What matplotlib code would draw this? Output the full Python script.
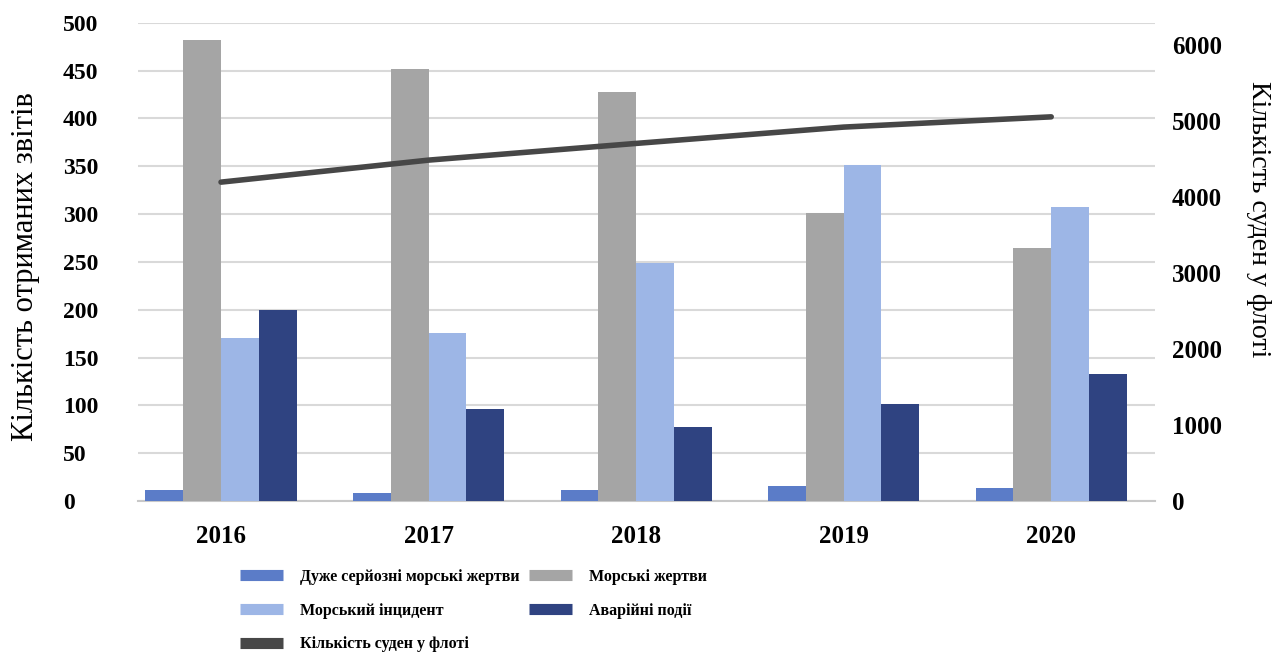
import matplotlib
matplotlib.use("Agg")
import matplotlib.pyplot as plt
from matplotlib.lines import Line2D
import numpy as np

years = ["2016", "2017", "2018", "2019", "2020"]
very_serious = [12, 8, 11, 16, 14]
marine_casualties = [482, 452, 428, 301, 264]
marine_incident = [170, 176, 249, 351, 307]
emergency_events = [200, 96, 77, 101, 133]
fleet_size = [4200, 4490, 4710, 4925, 5060]

left_ticks = list(range(0, 501, 50))
right_ticks = list(range(0, 6001, 1000))

series_names = ["Дуже серйозні морські жертви", "Морські жертви",
                "Морський інцидент", "Аварійні події"]
line_name = "Кількість суден у флоті"
left_label = "Кількість отриманих звітів"
colors = ["#5b7cc8", "#a5a5a5", "#9db6e6", "#2f4381"]
line_color = "#474747"

plt.rcParams['font.family'] = ['Liberation Serif', 'DejaVu Serif']

fig = plt.figure(figsize=(12.76, 6.63), dpi=100)
ax = fig.add_axes([138/1276, 1-501/663, (1155-138)/1276, (501-22.7)/663])
ax2 = ax.twinx()

x = np.arange(len(years))
w = 0.182
all_series = [very_serious, marine_casualties, marine_incident, emergency_events]
for i, (vals, c) in enumerate(zip(all_series, colors)):
    ax.bar(x + (i - 1.5) * w, vals, width=w, color=c, zorder=3)

ax.set_ylim(0, 500)
ax.set_xlim(-0.4, 4.5)
ax.set_yticks(left_ticks)
ax.set_yticklabels([str(t) for t in left_ticks], fontsize=17, fontweight='bold')
ax.set_xticks(x)
ax.set_xticklabels(years, fontsize=18, fontweight='bold')
ax.tick_params(axis='both', length=0)
ax.tick_params(axis='y', pad=54)
ax.tick_params(axis='x', pad=17)
for t in ax.get_yticklabels():
    t.set_horizontalalignment('left')
ax.grid(axis='y', color='#d9d9d9', linewidth=1.5, zorder=0)
ax.set_axisbelow(True)
for s in ['top', 'right', 'left']:
    ax.spines[s].set_visible(False)
ax.spines['bottom'].set_color('#c8c8c8')
ax.spines['bottom'].set_linewidth(1.5)
ax.set_ylabel(left_label, fontsize=22, va='center')
ax.yaxis.set_label_coords((26-138)/(1155-138), 0.49)

ax2.plot(x, fleet_size, color=line_color, linewidth=4, zorder=5, solid_capstyle='round')
ax2.set_ylim(0, 6300)
ax2.set_yticks(right_ticks)
ax2.set_yticklabels([str(t) for t in right_ticks], fontsize=18, fontweight='bold')
ax2.tick_params(axis='y', length=0, pad=12)
for s in ['top', 'right', 'left', 'bottom']:
    ax2.spines[s].set_visible(False)
ax2.set_ylabel(line_name, fontsize=20, rotation=-90, va='center')
ax2.yaxis.set_label_coords((1258-138)/(1155-138), 0.59)

handles = [Line2D([], [], color=c, lw=8, solid_capstyle='butt')
           for c in [colors[0], colors[2], line_color, colors[1], colors[3]]]
labels = [series_names[0], series_names[2], line_name, series_names[1], series_names[3]]
fig.legend(handles, labels, ncol=2, loc='upper left', bbox_to_anchor=(240/1276, 1-569/663),
           frameon=False, prop={'family': 'Liberation Serif', 'weight': 'bold', 'size': 11.5},
           handlelength=2.7, handletextpad=1.05, columnspacing=0.6, labelspacing=1.1,
           borderaxespad=0, borderpad=0)

fig.savefig("out.png", dpi=100)
